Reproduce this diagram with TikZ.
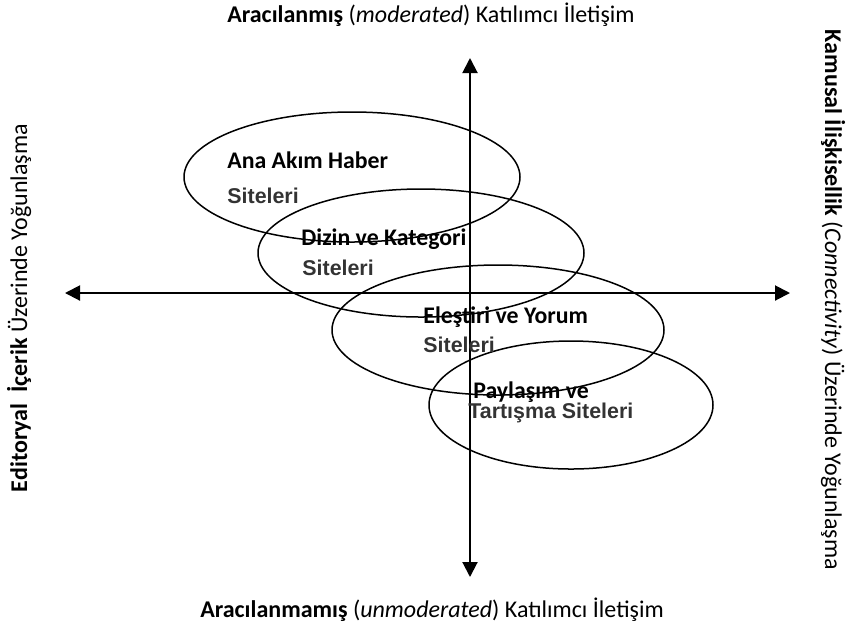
\documentclass[tikz,border=0pt]{standalone}
\usepackage{fontspec}
\setmainfont{Carlito}
\newfontfamily\arialfont{Liberation Sans}
\usetikzlibrary{arrows.meta, shapes.geometric}
\definecolor{sitegray}{RGB}{51,51,51}

\begin{document}
\begin{tikzpicture}[x=0.5pt, y=-0.5pt, >={Triangle[length=7.5pt, width=7.5pt]},
      axis/.style={line width=1pt, <->},
      zone/.style={draw, ellipse, line width=0.75pt, inner sep=0pt},
      title/.style={font=\fontsize{12}{14}\selectfont, anchor=base},
      head/.style={font=\fontsize{11.9}{14}\selectfont\bfseries, anchor=base west, inner sep=0pt},
      site/.style={font=\arialfont\fontsize{10.7}{12}\selectfont\bfseries, text=sitegray,
                   anchor=base west, inner sep=0pt}]

    \useasboundingbox (0,0) rectangle (846,629);

    \def\ax{470}   % vertical axis x
    \def\ay{293}   % horizontal axis y

    % Axes
    \coordinate (top) at (\ax,58);
    \coordinate (bottom) at (\ax,577);
    \coordinate (left) at (65,\ay);
    \coordinate (right) at (790,\ay);
    \draw[axis] (bottom) -- (top);
    \draw[axis] (left) -- (right);

    % Axis labels
    \node[title] (mod) at (431,22) {\textbf{Aracılanmış} (\textit{moderated}) Katılımcı İletişim};
    \node[title] (unmod) at (432,617) {\textbf{Aracılanmamış} (\textit{unmoderated}) Katılımcı İletişim};
    \node[title, rotate=90] (edit) at (27,308) {\textbf{Editoryal\ \ İçerik} Üzerinde Yoğunlaşma};
    \node[title, rotate=-90] (conn) at (825,300) {\textbf{Kamusal İlişkisellik} (\textit{Connectivity}) Üzerinde Yoğunlaşma};

    % Site groups (sizes in pt = half the pixel sizes)
    \node[zone, minimum width=168pt, minimum height=65pt] (main) at (352,177) {};
    \node[zone, minimum width=163pt, minimum height=64pt] (dir) at (421,253) {};
    \node[zone, minimum width=166pt, minimum height=65pt] (crit) at (498,330) {};
    \node[zone, minimum width=142pt, minimum height=64pt] (share) at (571,405) {};

    \node[head] (mainA) at (227,168) {Ana Akım Haber};
    \node[site] (mainB) at (227,203) {Siteleri};
    \node[head] (dirA) at (301,245) {Dizin ve Kategori};
    \node[site] (dirB) at (302,275) {Siteleri};
    \node[head] (critA) at (423,323) {Eleştiri ve Yorum};
    \node[site] (critB) at (423,352) {Siteleri};
    \node[head] (shareA) at (473,398) {Paylaşım ve};
    \node[site] (shareB) at (468,418) {Tartışma Siteleri};

\end{tikzpicture}
\end{document}
